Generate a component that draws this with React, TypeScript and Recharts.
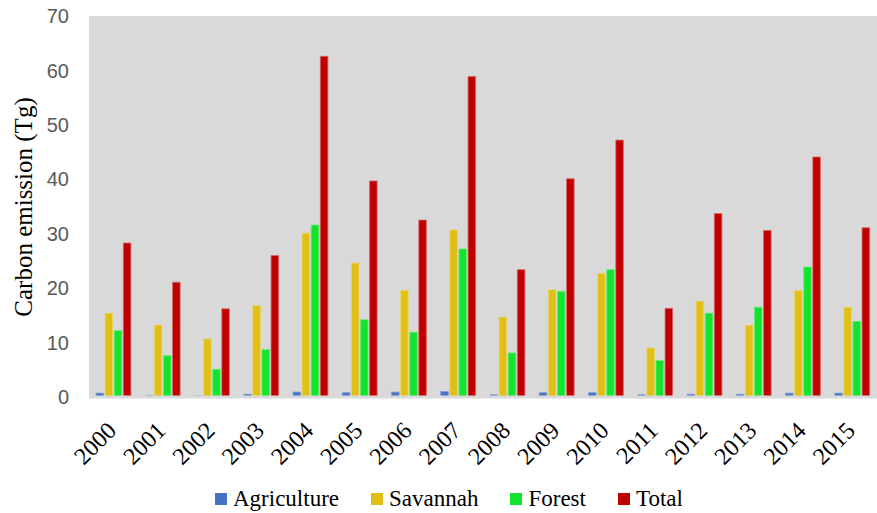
import React from 'react';
import { BarChart, Bar, XAxis, YAxis, CartesianGrid, Legend } from 'recharts';

const years = ['2000','2001','2002','2003','2004','2005','2006','2007','2008','2009','2010','2011','2012','2013','2014','2015'];
const agriculture = [0.7, 0.3, 0.2, 0.5, 0.9, 0.8, 0.9, 1.0, 0.4, 0.8, 0.8, 0.4, 0.5, 0.5, 0.7, 0.7];
const savannah = [15.4, 13.2, 10.7, 16.8, 30.1, 24.6, 19.6, 30.7, 14.7, 19.7, 22.7, 9.0, 17.6, 13.2, 19.5, 16.5];
const forest = [12.2, 7.6, 5.1, 8.7, 31.6, 14.2, 11.9, 27.2, 8.1, 19.4, 23.4, 6.7, 15.4, 16.5, 23.9, 13.9];
const total = [28.3, 21.1, 16.2, 26.0, 62.6, 39.7, 32.5, 58.9, 23.4, 40.1, 47.2, 16.3, 33.7, 30.6, 44.1, 31.1];
const yTicks = [0, 10, 20, 30, 40, 50, 60, 70];

const series = [
  { key: 'Agriculture', color: '#4472C4', stroke: '#7d9ad6', values: agriculture },
  { key: 'Savannah', color: '#E0C016', stroke: '#ecd66a', values: savannah },
  { key: 'Forest', color: '#12E32C', stroke: '#6aee7b', values: forest },
  { key: 'Total', color: '#C00000', stroke: '#d86a6a', values: total },
];

const data = years.map((y, i) => {
  const row: Record<string, string | number> = { year: y };
  series.forEach((s) => { row[s.key] = s.values[i]; });
  return row;
});

const SERIF = "'Liberation Serif', 'Times New Roman', serif";

const XTick = (props: any) => {
  const { x, y, payload } = props;
  const ax = x + 4;
  const ay = y + 35;
  return (
    <text x={ax} y={ay} textAnchor="end" style={{ fontFamily: SERIF }} fontSize={24} fill="#000"
      transform={`rotate(-45, ${ax}, ${ay})`}>
      {payload.value}
    </text>
  );
};

const YLabel = () => (
  <text x={23} y={207} textAnchor="middle" dominantBaseline="central" style={{ fontFamily: SERIF }}
    fontSize={25} fill="#000" transform="rotate(-90, 23, 207)">
    Carbon emission (Tg)
  </text>
);

const LegendContent = () => (
  <div style={{ display: 'flex', justifyContent: 'flex-start', paddingLeft: 215, fontFamily: SERIF, fontSize: 23, color: '#000' }}>
    {series.map((s) => (
      <div key={s.key} style={{ display: 'flex', alignItems: 'center', marginRight: 32 }}>
        <span style={{ display: 'inline-block', width: 12, height: 12, background: s.color, marginRight: 6 }} />
        <span style={{ lineHeight: '28px' }}>{s.key}</span>
      </div>
    ))}
  </div>
);

export default function App() {
  return (
    <div style={{ position: 'absolute', left: 0, top: 0, width: 877, height: 513, background: '#fff' }}>
      <BarChart width={877} height={513} data={data} margin={{ top: 16, right: 0, bottom: 0, left: 0 }}
        barSize={7.6} barGap={1.5}>
        <CartesianGrid fill="#D9D9D9" horizontal={false} vertical={false} />
        <YAxis domain={[0, 70]} ticks={yTicks} width={89} axisLine={false} tickLine={false}
          tickSize={0} tickMargin={20} interval={0}
          tick={{ fontFamily: "'Liberation Sans', Arial, sans-serif", fontSize: 20, fill: '#595959' }}
          label={<YLabel />} />
        <XAxis dataKey="year" height={116} interval={0} tickLine={false} tickSize={0} tickMargin={0}
          axisLine={{ stroke: '#D9D9D9', strokeWidth: 3 }} tick={<XTick />} />
        <Legend layout="horizontal" verticalAlign="middle" align="center"
          wrapperStyle={{ position: 'absolute', top: 485, left: 0, width: 877 }}
          content={<LegendContent />} />
        {series.map((s) => (
          <Bar key={s.key} dataKey={s.key} fill={s.color} stroke={s.stroke} strokeWidth={0.8}
            isAnimationActive={false} />
        ))}
      </BarChart>
    </div>
  );
}
